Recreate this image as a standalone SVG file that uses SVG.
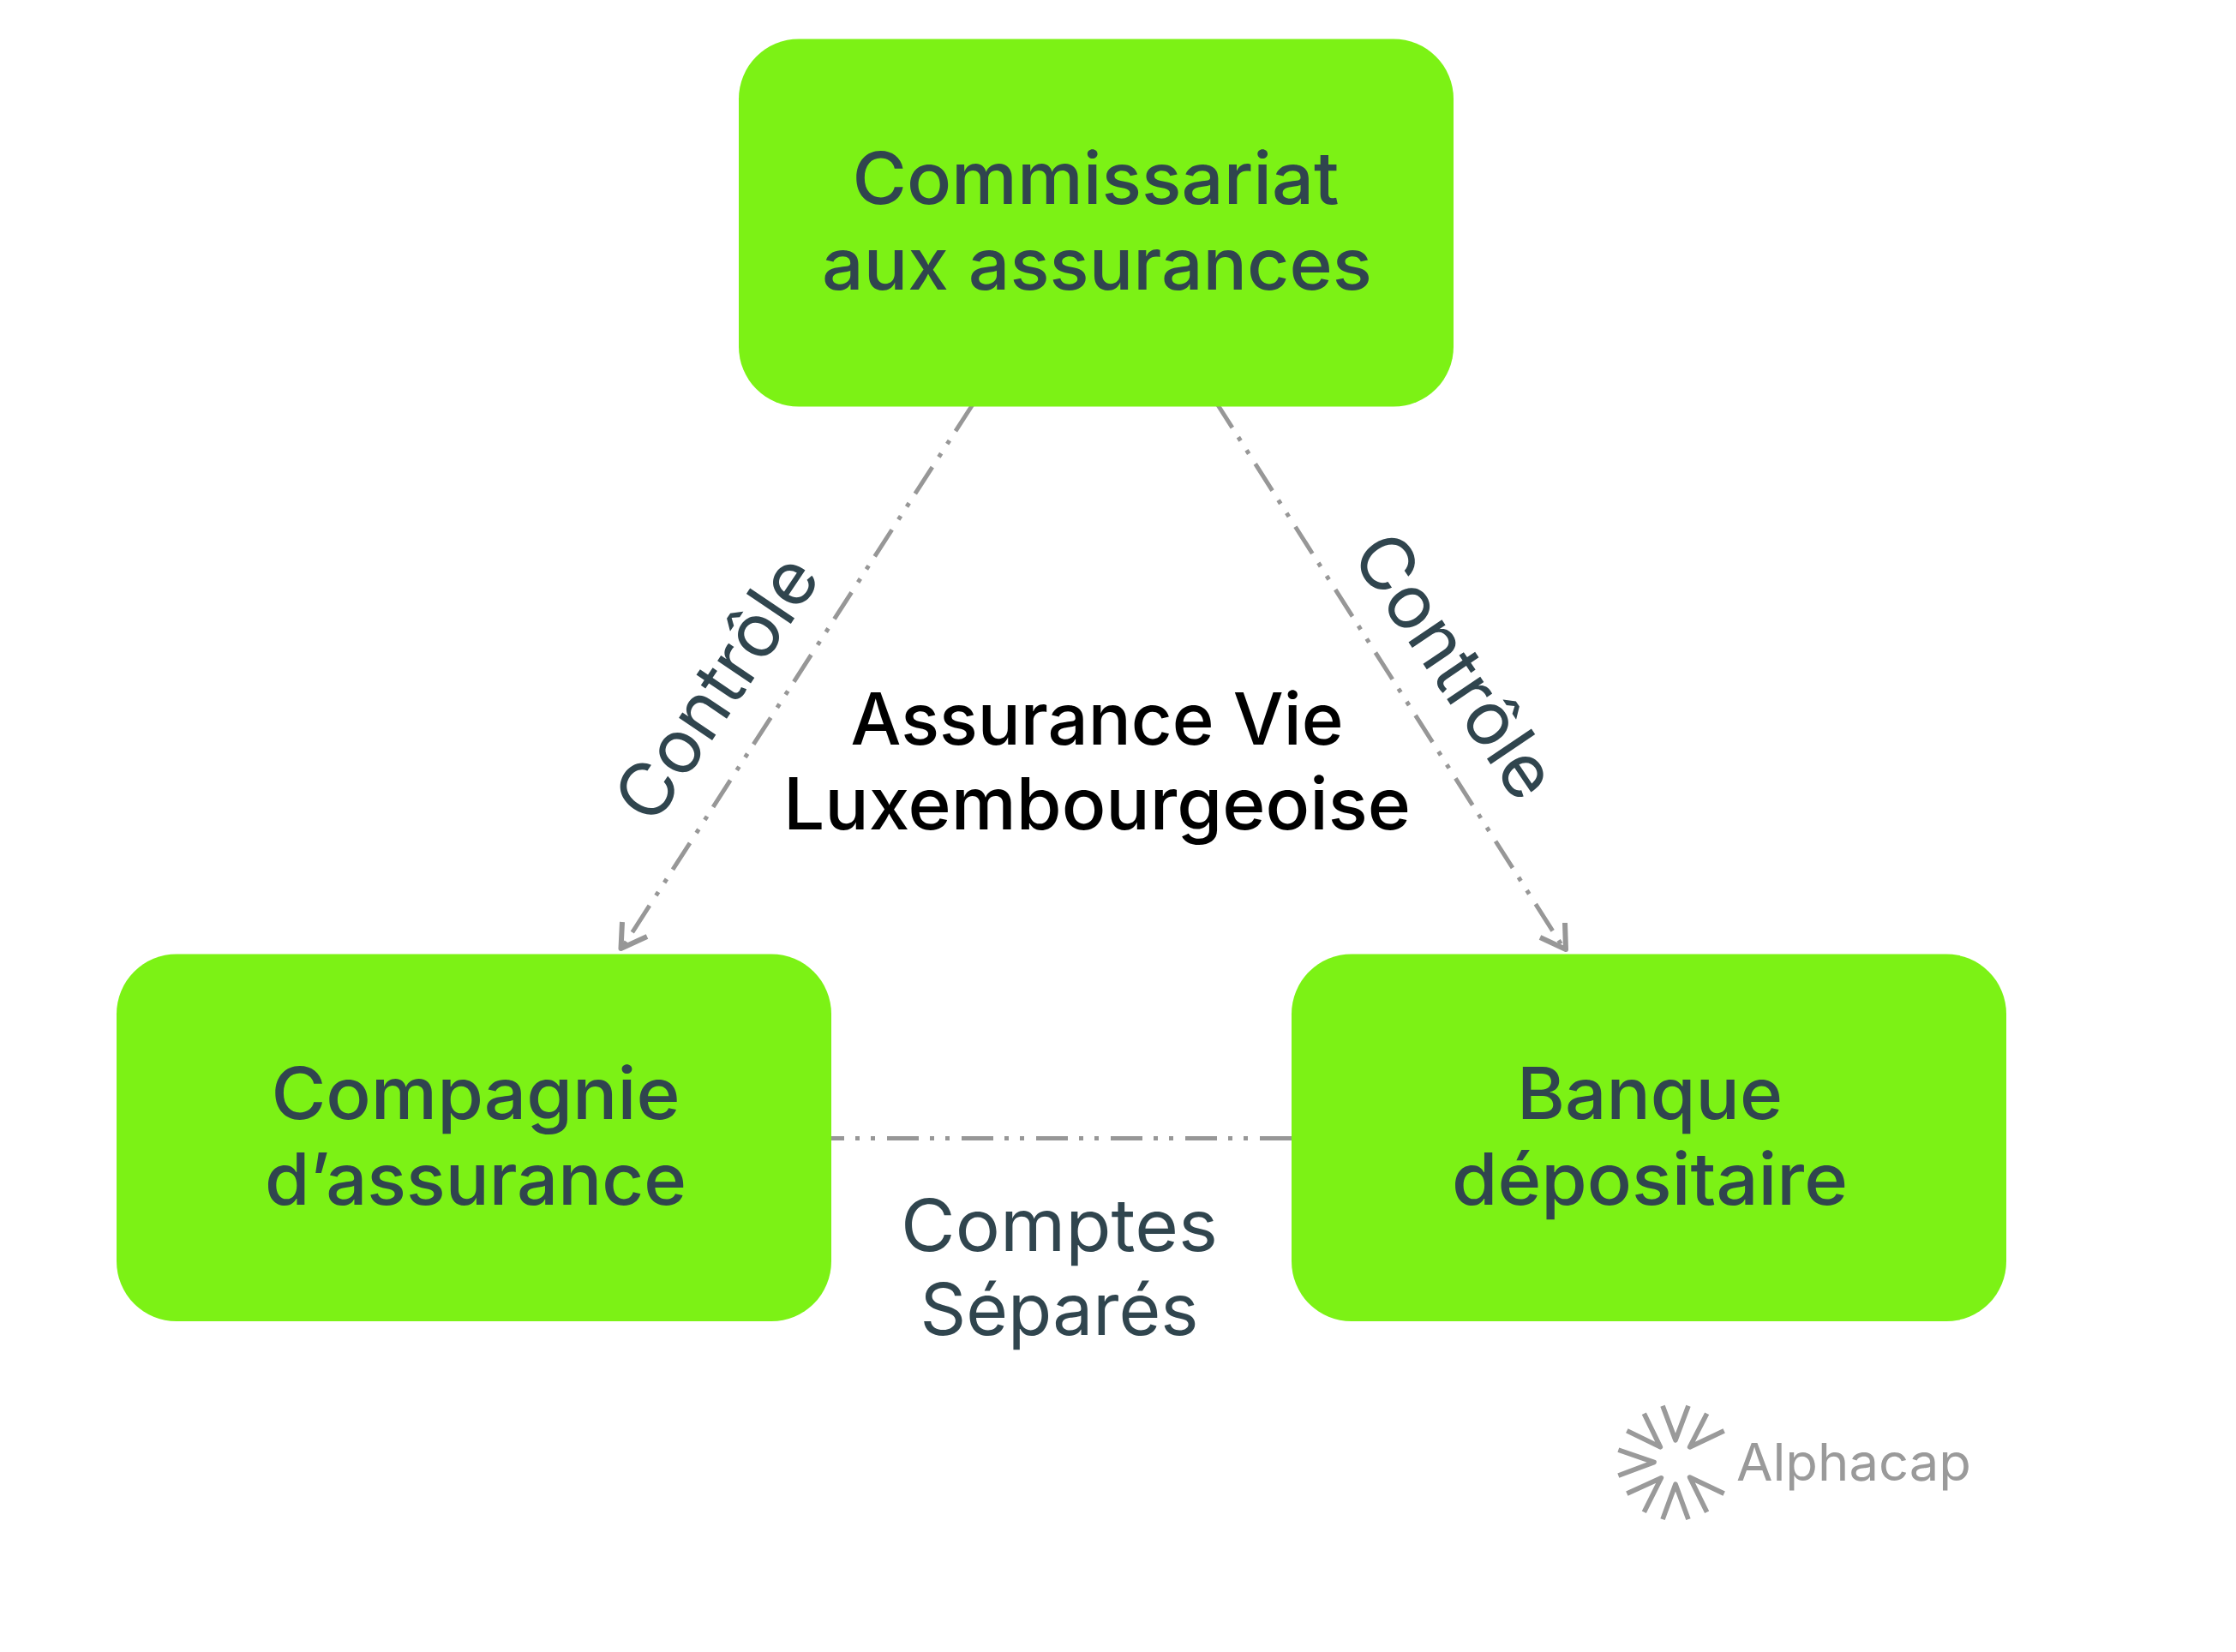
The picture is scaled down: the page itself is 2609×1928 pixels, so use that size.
<svg xmlns="http://www.w3.org/2000/svg" width="2609" height="1928" viewBox="0 0 2609 1928">
<style>
.node{fill:#7cf215}
.t{font-family:"Inter","Liberation Sans",sans-serif;font-size:84px;text-anchor:middle}
.n{fill:#30454e;font-weight:500}
.c{fill:#30454e;font-weight:400}
.r{font-size:86px}
.b{fill:#000;font-weight:500}
.link{fill:none;stroke:#979797;stroke-width:5;stroke-dasharray:37 13 5 13 5 14}
.head{fill:none;stroke:#979797;stroke-width:6;stroke-linejoin:round}
</style>
<rect width="2609" height="1928" fill="#fff"/>
<g id="connectors">
<path class="link" d="M1135 472L723 1111"/>
<path class="link" d="M1418 468L1828 1112"/>
<path class="link" d="M970 1328.500H1507" stroke-dashoffset="22"/>
<path class="head" d="M726 1076L724.500 1107L755 1093"/>
<path class="head" d="M1826 1077L1827 1108L1797 1094"/>
</g>
<g id="node-commissariat">
<rect class="node" x="862" y="45.500" width="834" height="429" rx="70"/>
<text class="t n" x="1278.500" y="238" textLength="568" lengthAdjust="spacingAndGlyphs">Commissariat</text>
<text class="t n" x="1280" y="338" textLength="642" lengthAdjust="spacingAndGlyphs">aux assurances</text>
</g>
<g id="node-compagnie">
<rect class="node" x="136" y="1113.500" width="834" height="428.500" rx="70"/>
<text class="t n" x="555" y="1306" textLength="477" lengthAdjust="spacingAndGlyphs">Compagnie</text>
<text class="t n" x="555" y="1405.500" textLength="492" lengthAdjust="spacingAndGlyphs">d’assurance</text>
</g>
<g id="node-banque">
<rect class="node" x="1507" y="1113.500" width="834" height="428.500" rx="70"/>
<text class="t n" x="1925" y="1306" textLength="310" lengthAdjust="spacingAndGlyphs">Banque</text>
<text class="t n" x="1925" y="1405.500" textLength="462" lengthAdjust="spacingAndGlyphs">dépositaire</text>
</g>
<g id="label-center">
<text class="t b" x="1280" y="869" textLength="575" lengthAdjust="spacingAndGlyphs">Assurance Vie</text>
<text class="t b" x="1280" y="968" textLength="732" lengthAdjust="spacingAndGlyphs">Luxembourgeoise</text>
</g>
<g id="label-comptes">
<text class="t c" x="1236" y="1459.500" textLength="370" lengthAdjust="spacingAndGlyphs">Comptes</text>
<text class="t c" x="1236" y="1557.500" textLength="325" lengthAdjust="spacingAndGlyphs">Séparés</text>
</g>
<g id="label-controle">
<text class="t c r" transform="translate(836 803) rotate(-56)" y="30" textLength="352" lengthAdjust="spacingAndGlyphs">Contrôle</text>
<text class="t c r" transform="translate(1698 777) rotate(56)" y="30" textLength="352" lengthAdjust="spacingAndGlyphs">Contrôle</text>
</g>
<g id="logo">
<g transform="translate(1850 1601.500) scale(.3333)" fill="none" stroke="#9a9a9a" stroke-width="17" stroke-linejoin="round">
<path d="M270 118L315 238L360 118"/>
<path d="M205 145L262 262L145 205"/>
<path d="M425 145L365 262L485 205"/>
<path d="M115 272L240 315L115 362"/>
<path d="M270 515L315 392L360 515"/>
<path d="M205 490L265 370L145 425"/>
<path d="M425 490L365 368L485 425"/>
</g>
<text x="2026" y="1728" font-family="Inter,'Liberation Sans',sans-serif" font-size="60" fill="#9a9a9a" textLength="274" lengthAdjust="spacingAndGlyphs">Alphacap</text>
</g>
</svg>
